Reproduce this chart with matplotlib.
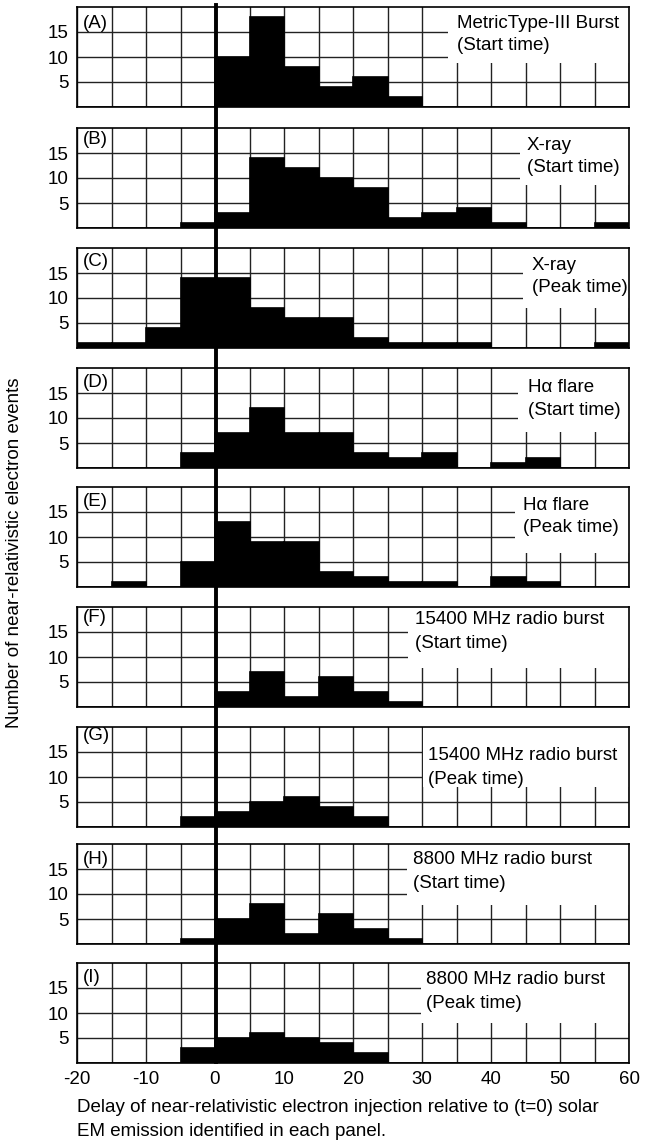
import matplotlib
matplotlib.use("Agg")
import matplotlib.pyplot as plt
from matplotlib.patches import Rectangle
from matplotlib.lines import Line2D
import matplotlib.transforms as mtransforms

plt.rcParams['font.family'] = ['Liberation Sans', 'DejaVu Sans']
plt.rcParams['axes.unicode_minus'] = False

# ---- data ----
bin_left = [-20, -15, -10, -5, 0, 5, 10, 15, 20, 25, 30, 35, 40, 45, 50, 55]
bin_width = 5

panel_letters = ["(A)", "(B)", "(C)", "(D)", "(E)", "(F)", "(G)", "(H)", "(I)"]
title_line1 = [
    "MetricType-III Burst",
    "X-ray",
    "X-ray",
    "H\u03b1 flare",
    "H\u03b1 flare",
    "15400 MHz radio burst",
    "15400 MHz radio burst",
    "8800 MHz radio burst",
    "8800 MHz radio burst",
]
title_line2 = [
    "(Start time)", "(Start time)", "(Peak time)", "(Start time)", "(Peak time)",
    "(Start time)", "(Peak time)", "(Start time)", "(Peak time)",
]

counts_A = [0, 0, 0, 0, 10, 18, 8, 4, 6, 2, 0, 0, 0, 0, 0, 0]
counts_B = [0, 0, 0, 1, 3, 14, 12, 10, 8, 2, 3, 4, 1, 0, 0, 1]
counts_C = [1, 1, 4, 14, 14, 8, 6, 6, 2, 1, 1, 1, 0, 0, 0, 1]
counts_D = [0, 0, 0, 3, 7, 12, 7, 7, 3, 2, 3, 0, 1, 2, 0, 0]
counts_E = [0, 1, 0, 5, 13, 9, 9, 3, 2, 1, 1, 0, 2, 1, 0, 0]
counts_F = [0, 0, 0, 0, 3, 7, 2, 6, 3, 1, 0, 0, 0, 0, 0, 0]
counts_G = [0, 0, 0, 2, 3, 5, 6, 4, 2, 0, 0, 0, 0, 0, 0, 0]
counts_H = [0, 0, 0, 1, 5, 8, 2, 6, 3, 1, 0, 0, 0, 0, 0, 0]
counts_I = [0, 0, 0, 3, 5, 6, 5, 4, 2, 0, 0, 0, 0, 0, 0, 0]
all_counts = [counts_A, counts_B, counts_C, counts_D, counts_E,
              counts_F, counts_G, counts_H, counts_I]

x_ticks = [-20, -10, 0, 10, 20, 30, 40, 50, 60]
y_ticks = [5, 10, 15]

# ---- layout (pixels) ----
W, H = 648, 1142
panel_tops = [7, 128, 248, 368, 487, 607, 727, 844, 963]
panel_h = 100
left_px, right_px = 77, 629
px_per_unit_y = 5.0
letter_px = [16, 11, 13, 14, 15, 11, 9, 15, 14]     # letter centre below panel top
line1_px = [16, 17, 17, 19, 18, 13, 29, 16, 17]     # title line 1 centre below top
line_gap_px = 23
# box left x, box bottom y, text x (data units)
box_specs = [
    (33.8, 8.8, 35.1),
    (44.2, 8.6, 45.2),
    (44.6, 8.0, 45.9),
    (43.9, 7.2, 45.4),
    (43.5, 6.8, 44.6),
    (28.0, 7.8, 29.0),
    (30.1, 8.0, 30.9),
    (27.8, 7.8, 28.7),
    (29.9, 8.0, 30.6),
]

FS = 13.5
fig = plt.figure(figsize=(W / 100, H / 100), dpi=100)
axes = []
for i, counts in enumerate(all_counts):
    top = panel_tops[i]
    ax = fig.add_axes([left_px / W, 1 - (top + panel_h) / H,
                       (right_px - left_px) / W, panel_h / H])
    axes.append(ax)
    ax.set_xlim(-20, 60)
    ax.set_ylim(0, 20)
    ax.set_axisbelow(True)
    ax.bar(bin_left, counts, width=bin_width, align='edge', color='black',
           edgecolor='black', linewidth=1.2, zorder=2)
    ax.set_xticks(x_ticks)
    ax.set_xticks([v + 5 for v in x_ticks[:-1]], minor=True)
    ax.set_yticks(y_ticks)
    ax.grid(True, which='both', axis='x', color='#222222', linewidth=1.0)
    ax.grid(True, which='major', axis='y', color='#222222', linewidth=1.0)
    ax.tick_params(which='both', length=0, labelsize=FS, pad=6)
    if i < len(all_counts) - 1:
        ax.tick_params(axis='x', labelbottom=False)
    for sp in ax.spines.values():
        sp.set_linewidth(1.2)
        sp.set_color('black')
    bx, by, tx = box_specs[i]
    ax.add_patch(Rectangle((bx, by), 60 - bx, 20 - by, facecolor='white',
                           edgecolor='none', zorder=2.3))
    y1 = 20 - line1_px[i] / px_per_unit_y
    y2 = 20 - (line1_px[i] + line_gap_px) / px_per_unit_y
    ax.text(tx, y1, title_line1[i], fontsize=FS, va='center', ha='left', zorder=3)
    ax.text(tx, y2, title_line2[i], fontsize=FS, va='center', ha='left', zorder=3)
    ax.text(-19.2, 20 - letter_px[i] / px_per_unit_y, panel_letters[i],
            fontsize=FS, va='center', ha='left', zorder=3)

# thick line at t=0 spanning all panels
trans = mtransforms.blended_transform_factory(axes[0].transData, fig.transFigure)
fig.add_artist(Line2D([0.1, 0.1], [1 - 5 / H, 1 - 1062 / H], transform=trans,
                      color='black', linewidth=2.8, zorder=10))

fig.text(15 / W, 1 - 553 / H, "Number of near-relativistic electron events",
         rotation=90, fontsize=FS, ha='center', va='center')
fig.text(left_px / W, 1 - 1108 / H,
         "Delay of near-relativistic electron injection relative to (t=0) solar",
         fontsize=FS, ha='left', va='center')
fig.text(left_px / W, 1 - 1132 / H, "EM emission identified in each panel.",
         fontsize=FS, ha='left', va='center')

fig.savefig("out.png", dpi=100)
